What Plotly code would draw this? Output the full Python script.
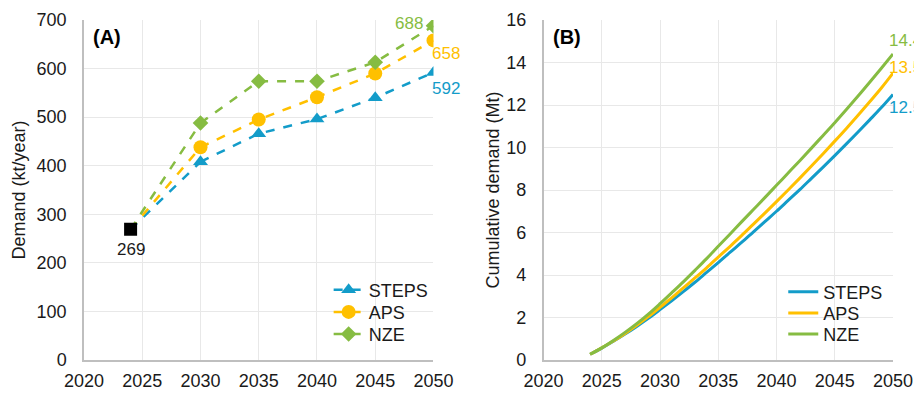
import plotly.graph_objects as go
from plotly.subplots import make_subplots

# Annual demand (kt/year) by scenario
years = [2024, 2030, 2035, 2040, 2045, 2050]
steps_demand = [269, 408, 466, 496, 540, 592]
aps_demand = [269, 438, 495, 541, 590, 658]
nze_demand = [269, 488, 574, 574, 613, 688]
base_year = [2024]
base_demand = [269]

# Cumulative demand (Mt) by scenario, yearly
cum_years = list(range(2024, 2051))
steps_cum = [0.27, 0.56, 0.88, 1.22, 1.58, 1.96, 2.37, 2.79, 3.22, 3.66, 4.12, 4.58,
             5.06, 5.53, 6.02, 6.51, 7.00, 7.51, 8.02, 8.55, 9.08, 9.62, 10.17,
             10.73, 11.30, 11.88, 12.5]
aps_cum = [0.27, 0.57, 0.89, 1.25, 1.63, 2.04, 2.48, 2.92, 3.39, 3.86, 4.34, 4.84,
           5.34, 5.85, 6.38, 6.91, 7.45, 8.00, 8.56, 9.13, 9.71, 10.30, 10.90,
           11.52, 12.15, 12.80, 13.5]
nze_cum = [0.27, 0.57, 0.92, 1.30, 1.71, 2.16, 2.65, 3.16, 3.68, 4.22, 4.77, 5.35,
           5.92, 6.50, 7.07, 7.64, 8.22, 8.80, 9.38, 9.97, 10.57, 11.17, 11.79,
           12.42, 13.07, 13.73, 14.4]

scenarios = ["STEPS", "APS", "NZE"]
colors = {"STEPS": "#139CC9", "APS": "#FFC000", "NZE": "#86BC42"}
symbols = {"STEPS": "triangle-up", "APS": "circle", "NZE": "diamond"}
msizes = {"STEPS": 13, "APS": 14, "NZE": 12}
demand = {"STEPS": steps_demand, "APS": aps_demand, "NZE": nze_demand}
cumulative = {"STEPS": steps_cum, "APS": aps_cum, "NZE": nze_cum}

FONT = "Liberation Sans, Arial, sans-serif"
TXT = "#1a1a1a"

# one single-entry legend per scenario and panel, so the row spacing can be set
legend_a = {"STEPS": "legend", "APS": "legend2", "NZE": "legend3"}
legend_b = {"STEPS": "legend4", "APS": "legend5", "NZE": "legend6"}

fig = make_subplots(rows=1, cols=2, horizontal_spacing=0.136)

for s in scenarios:
    # dashed link from the 2024 base point to the first projection year
    fig.add_trace(go.Scatter(
        x=years[:2], y=demand[s][:2], mode="lines", showlegend=False,
        line=dict(color=colors[s], width=2.5, dash="dash"),
    ), row=1, col=1)
    fig.add_trace(go.Scatter(
        x=years[1:], y=demand[s][1:], name=s, mode="lines+markers",
        line=dict(color=colors[s], width=2.5, dash="dash"),
        marker=dict(symbol=symbols[s], color=colors[s], size=msizes[s]),
        legend=legend_a[s],
    ), row=1, col=1)

fig.add_trace(go.Scatter(
    x=base_year, y=base_demand, mode="markers", showlegend=False,
    marker=dict(symbol="square", color="black", size=13),
), row=1, col=1)

for s in scenarios:
    fig.add_trace(go.Scatter(
        x=cum_years, y=cumulative[s], name=s, mode="lines",
        line=dict(color=colors[s], width=3, shape="spline"),
        legend=legend_b[s],
    ), row=1, col=2)

axis_common = dict(
    showgrid=True, gridcolor="#e8e8e8", gridwidth=1,
    showline=True, linecolor="#bfbfbf", linewidth=1.5,
    zeroline=False, ticks="", automargin=False,
    tickfont=dict(family=FONT, size=18, color=TXT),
)

fig.update_xaxes(range=[2020, 2050], dtick=5, ticklabelstandoff=4, **axis_common)
fig.update_yaxes(ticklabelstandoff=12, **axis_common)
fig.update_yaxes(range=[0, 700], dtick=100, row=1, col=1,
                 title=dict(text="Demand (kt/year)", standoff=6,
                            font=dict(family=FONT, size=18, color=TXT)))
fig.update_yaxes(range=[0, 16], dtick=2, row=1, col=2,
                 title=dict(text="Cumulative demand (Mt)", standoff=2,
                            font=dict(family=FONT, size=18, color=TXT)))

ann = []
# Panel letters
ann.append(dict(xref="x domain", yref="y domain", x=0.02, y=0.95, text="<b>(A)</b>",
                showarrow=False, xanchor="left", yanchor="middle",
                font=dict(family=FONT, size=20, color="black")))
ann.append(dict(xref="x2 domain", yref="y2 domain", x=0.02, y=0.95, text="<b>(B)</b>",
                showarrow=False, xanchor="left", yanchor="middle",
                font=dict(family=FONT, size=20, color="black")))

# End-point value labels, panel A
ann.append(dict(xref="x", yref="y", x=base_year[0], y=base_demand[0], text=str(base_demand[0]),
                showarrow=False, yshift=-20, font=dict(family=FONT, size=17, color=TXT)))
ann.append(dict(xref="x", yref="y", x=years[-1], y=nze_demand[-1], text=str(nze_demand[-1]),
                showarrow=False, xanchor="right", xshift=-8, yshift=2,
                font=dict(family=FONT, size=17, color=colors["NZE"])))
ann.append(dict(xref="x", yref="y", x=years[-1], y=aps_demand[-1], text=str(aps_demand[-1]),
                showarrow=False, xanchor="left", xshift=-3, yshift=-13,
                font=dict(family=FONT, size=17, color=colors["APS"])))
ann.append(dict(xref="x", yref="y", x=years[-1], y=steps_demand[-1], text=str(steps_demand[-1]),
                showarrow=False, xanchor="left", xshift=-3, yshift=-16,
                font=dict(family=FONT, size=17, color=colors["STEPS"])))

# End-point value labels, panel B (they run off the right edge of the figure)
for s, ys in (("NZE", 14), ("APS", 6), ("STEPS", -13)):
    ann.append(dict(xref="x2", yref="y2", x=cum_years[-1], y=cumulative[s][-1],
                    text=f"{cumulative[s][-1]:.1f}", showarrow=False,
                    xanchor="left", xshift=-6, yshift=ys,
                    font=dict(family=FONT, size=17, color=colors[s])))

legend_common = dict(
    font=dict(family=FONT, size=18, color=TXT),
    bgcolor="rgba(255,255,255,0)", borderwidth=0,
    itemwidth=30, xanchor="left", yanchor="top",
    xref="paper", yref="paper",
)

fig.update_layout(
    width=914, height=393,
    margin=dict(l=84, r=21, t=20, b=33),
    plot_bgcolor="white", paper_bgcolor="white",
    font=dict(family=FONT, size=18, color=TXT),
    annotations=ann,
)

# Legend placement: left edge as a fraction of each panel's width, rows stacked
dom_a = fig.layout.xaxis.domain
dom_b = fig.layout.xaxis2.domain
xa = dom_a[0] + 0.70 * (dom_a[1] - dom_a[0])
xb = dom_b[0] + 0.686 * (dom_b[1] - dom_b[0])
rows_a = {"STEPS": 0.26, "APS": 0.195, "NZE": 0.13}
rows_b = {"STEPS": 0.254, "APS": 0.192, "NZE": 0.13}
legend_layout = {}
for s in scenarios:
    legend_layout[legend_a[s]] = dict(x=xa, y=rows_a[s], **legend_common)
    legend_layout[legend_b[s]] = dict(x=xb, y=rows_b[s], **legend_common)
fig.update_layout(**legend_layout)

fig.write_html("out.html")
